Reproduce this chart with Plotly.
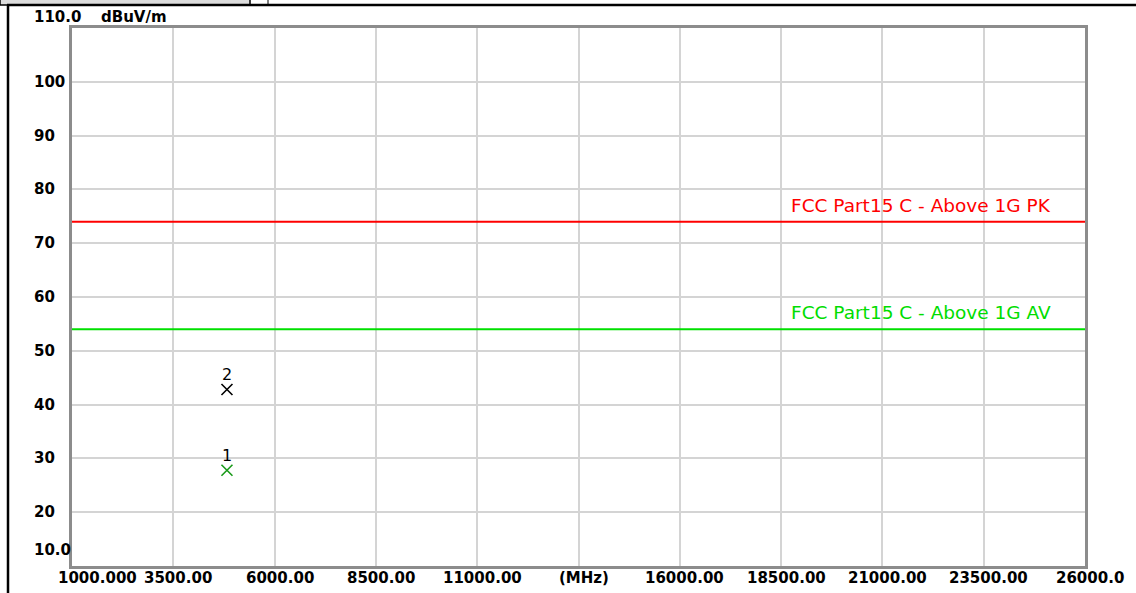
import plotly.graph_objects as go

# ---- data ----
x_ticks = [1000, 3500, 6000, 8500, 11000, 13500, 16000, 18500, 21000, 23500, 26000]
x_tick_text = ["1000.000", "3500.00", "6000.00", "8500.00", "11000.00", "(MHz)",
               "16000.00", "18500.00", "21000.00", "23500.00", "26000.0"]
y_ticks = [10, 20, 30, 40, 50, 60, 70, 80, 90, 100, 110]
y_tick_text = ["10.0", "20", "30", "40", "50", "60", "70", "80", "90", "100", "110.0"]

limit_names = ["FCC Part15 C - Above 1G PK", "FCC Part15 C - Above 1G AV"]
limit_levels = [74, 54]
limit_colors = ["#ff0000", "#00e000"]
limit_text_colors = ["#ff0000", "#00dd00"]

marker_ids = ["1", "2"]
marker_freq = [4824, 4824]
marker_level = [27.8, 42.8]
marker_colors = ["#1a9a1a", "#000000"]

X_RANGE = [1000, 26000]
Y_RANGE = [10, 110]

W, H = 1136, 593
L, R, T, B = 72, 1085, 28, 566
pw, ph = R - L, B - T


def px(x):
    return (x - L) / pw


def py(y):
    return (B - y) / ph


FONT = "DejaVu Sans"
TICKFONT = dict(family=FONT, size=15, color="#000000", weight="bold")

fig = go.Figure()

for name, lvl, col in zip(limit_names, limit_levels, limit_colors):
    fig.add_trace(go.Scatter(x=X_RANGE, y=[lvl, lvl], mode="lines",
                             line=dict(color=col, width=2), name=name,
                             hoverinfo="skip", showlegend=False))

for mid, f, lv, col in zip(marker_ids, marker_freq, marker_level, marker_colors):
    fig.add_trace(go.Scatter(x=[f], y=[lv], mode="markers", name=mid,
                             marker=dict(symbol="x-thin", size=11,
                                         line=dict(color=col, width=1.6)),
                             showlegend=False))

annotations = []
# marker labels
for mid, f, lv in zip(marker_ids, marker_freq, marker_level):
    annotations.append(dict(x=f, y=lv, xref="x", yref="y", text=mid,
                            showarrow=False, yshift=15,
                            font=dict(family=FONT, size=16, color="#000000")))

# limit labels
for name, lvl, col in zip(limit_names, limit_levels, limit_text_colors):
    annotations.append(dict(x=px(789), xref="paper", y=lvl, yref="y", text=name,
                            showarrow=False, xanchor="left", yanchor="bottom",
                            yshift=4,
                            font=dict(family=FONT, size=18.5, color=col)))

# y tick labels (left aligned, as in the reference)
for v, t in zip(y_ticks, y_tick_text):
    ys = 0
    if v == 110:
        ys = 11
    elif v == 10:
        ys = 16
    annotations.append(dict(x=0, xref="paper", xshift=-40, y=v, yref="y",
                            yshift=ys, text=t, showarrow=False,
                            xanchor="left", yanchor="middle", font=TICKFONT))

# x tick labels
for v, t in zip(x_ticks, x_tick_text):
    if v == X_RANGE[0]:
        annotations.append(dict(x=px(139), xref="paper", y=0, yref="paper",
                                yshift=-12, text=t, showarrow=False,
                                xanchor="right", yanchor="middle", font=TICKFONT))
    else:
        annotations.append(dict(x=v, xref="x", y=0, yref="paper", yshift=-12,
                                xshift=5, text=t, showarrow=False,
                                xanchor="center", yanchor="middle", font=TICKFONT))

# unit label
annotations.append(dict(x=px(99), xref="paper", y=1, yref="paper", yshift=11,
                        text="dBuV/m", showarrow=False, xanchor="left",
                        yanchor="middle", font=TICKFONT))

shapes = [
    # grey box at top-left
    dict(type="rect", xref="paper", yref="paper", x0=px(0), x1=px(250),
         y0=py(5), y1=py(-2), fillcolor="#dcdcdc", line=dict(color="#000000", width=1.5)),
    dict(type="line", xref="paper", yref="paper", x0=px(268), x1=px(268),
         y0=py(5), y1=py(-2), line=dict(color="#000000", width=1)),
    # outer frame
    dict(type="line", xref="paper", yref="paper", x0=px(7), x1=px(1140),
         y0=py(5), y1=py(5), line=dict(color="#000000", width=2.5)),
    dict(type="line", xref="paper", yref="paper", x0=px(8), x1=px(8),
         y0=py(5), y1=py(600), line=dict(color="#000000", width=2.5)),
]

fig.update_layout(
    width=W, height=H, autosize=False,
    margin=dict(l=L, r=W - R, t=T, b=H - B, autoexpand=False),
    paper_bgcolor="#ffffff", plot_bgcolor="#ffffff",
    annotations=annotations, shapes=shapes,
    showlegend=False,
    xaxis=dict(range=X_RANGE, tickmode="array", tickvals=x_ticks,
               showticklabels=False, showgrid=True, gridcolor="#d4d4d4",
               gridwidth=2, zeroline=False, showline=True, linecolor="#8c8c8c",
               linewidth=2.5, mirror=True, ticks="", automargin=False),
    yaxis=dict(range=Y_RANGE, tickmode="array", tickvals=y_ticks,
               showticklabels=False, showgrid=True, gridcolor="#d4d4d4",
               gridwidth=2, zeroline=False, showline=True, linecolor="#8c8c8c",
               linewidth=2.5, mirror=True, ticks="", automargin=False),
)

fig.write_html("out.html", config={"responsive": False, "displayModeBar": False},
               post_script="document.body.style.margin='0';"
                           "document.body.style.overflow='hidden';")
